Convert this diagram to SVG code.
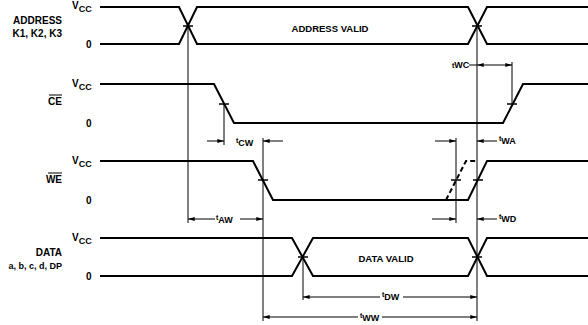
<svg xmlns="http://www.w3.org/2000/svg" width="588" height="325" viewBox="0 0 588 325">
<defs>
<marker id="ah" viewBox="0 0 10 6" refX="10" refY="3" markerWidth="8" markerHeight="4" markerUnits="userSpaceOnUse" orient="auto-start-reverse">
<path d="M0,0 L10,3 L0,6 Z" fill="#000"/>
</marker>
<style>
.sig{fill:none;stroke:#000;stroke-width:2;stroke-linejoin:miter}
.dash{fill:none;stroke:#000;stroke-width:2;stroke-dasharray:5,3}
.thin{fill:none;stroke:#000;stroke-width:1}
.arr{fill:none;stroke:#000;stroke-width:1;marker-end:url(#ah)}
.arr2{fill:none;stroke:#000;stroke-width:1;marker-start:url(#ah);marker-end:url(#ah)}
text{font-family:"Liberation Sans",Arial,sans-serif;font-weight:bold;font-size:10px;fill:#000}
.r{text-anchor:end}
.m{text-anchor:middle}
.t{font-size:7px}
.s{font-size:9px}
</style>
</defs>
<rect width="588" height="325" fill="#fff"/>

<g id="labels">
<text x="62" y="24" class="r">ADDRESS</text>
<text x="62" y="37" class="r">K1, K2, K3</text>
<text x="62" y="105" class="r">CE</text>
<line x1="49" y1="95" x2="62" y2="95" class="thin"/>
<text x="62" y="183" class="r">WE</text>
<line x1="48" y1="173" x2="62" y2="173" class="thin"/>
<text x="62" y="256" class="r">DATA</text>
<text x="62" y="269" class="r" style="font-size:9px">a, b, c, d, DP</text>
<text x="72" y="9">V<tspan class="s" dy="3">CC</tspan></text>
<text x="86" y="48">0</text>
<text x="72" y="87">V<tspan class="s" dy="3">CC</tspan></text>
<text x="86" y="127">0</text>
<text x="72" y="164">V<tspan class="s" dy="3">CC</tspan></text>
<text x="86" y="204">0</text>
<text x="72" y="241">V<tspan class="s" dy="3">CC</tspan></text>
<text x="86" y="280">0</text>
</g>

<g id="address">
<path class="sig" d="M100,7 H179 L197,44 H468 L487,7 H588"/>
<path class="sig" d="M100,44 H179 L197,7 H468 L487,44 H588"/>
<text x="330" y="32" class="m" style="font-size:9.5px">ADDRESS VALID</text>
</g>

<g id="ce">
<path class="sig" d="M100,84 H214 L234,123 H503 L523,84 H588"/>
</g>

<g id="we">
<path class="sig" d="M100,161 H253 L273,200 H468 L487,161 H588"/>
<path class="dash" d="M446,200 L466,161 H478"/>
</g>

<g id="data">
<path class="sig" d="M100,238 H292 L313,276 H468 L487,238 H588"/>
<path class="sig" d="M100,276 H292 L313,238 H468 L487,276 H588"/>
<text x="386" y="262" class="m" style="font-size:9.5px">DATA VALID</text>
</g>

<g id="connectors">
<!-- crossing ticks -->
<path class="thin" d="M183,26 h10 M472,26 h10 M219,104 h10 M507,104 h10 M258,180 h10 M451,180 h10 M473,180 h10 M298,257 h10 M472,257 h10" style="stroke-width:1.3"/>
<!-- reference verticals -->
<line class="thin" x1="188" y1="26" x2="188" y2="223"/>
<line class="thin" x1="477" y1="26" x2="477" y2="321"/>
<line class="thin" x1="224" y1="104" x2="224" y2="145"/>
<line class="thin" x1="263" y1="138" x2="263" y2="321"/>
<line class="thin" x1="512" y1="62" x2="512" y2="104"/>
<line class="thin" x1="456" y1="138" x2="456" y2="223"/>
<line class="thin" x1="303" y1="257" x2="303" y2="300"/>

<!-- tWC -->
<line class="thin" x1="469" y1="65" x2="477" y2="65"/>
<line class="arr2" x1="477" y1="65" x2="512" y2="65"/>
<text x="452" y="68"><tspan class="t">t</tspan><tspan class="s">WC</tspan></text>

<!-- tCW -->
<line class="arr" x1="207" y1="141" x2="224" y2="141"/>
<line class="arr" x1="283" y1="141" x2="263" y2="141"/>
<text x="236" y="143"><tspan class="t">t</tspan><tspan class="s" dy="3">CW</tspan></text>

<!-- tWA -->
<line class="arr" x1="435" y1="141" x2="456" y2="141"/>
<line class="arr" x1="497" y1="141" x2="477" y2="141"/>
<text x="499" y="141"><tspan class="t">t</tspan><tspan class="s" dy="3">WA</tspan></text>

<!-- tAW -->
<line class="arr" x1="215" y1="219" x2="188" y2="219"/>
<line class="arr" x1="240" y1="219" x2="263" y2="219"/>
<text x="216" y="220"><tspan class="t">t</tspan><tspan class="s" dy="3">AW</tspan></text>

<!-- tWD -->
<line class="arr" x1="432" y1="219" x2="456" y2="219"/>
<line class="arr" x1="497" y1="219" x2="477" y2="219"/>
<text x="499" y="219"><tspan class="t">t</tspan><tspan class="s" dy="3">WD</tspan></text>

<!-- tDW -->
<line class="arr" x1="380" y1="297" x2="303" y2="297"/>
<line class="arr" x1="403" y1="297" x2="477" y2="297"/>
<text x="382" y="297"><tspan class="t">t</tspan><tspan class="s" dy="3">DW</tspan></text>

<!-- tWW -->
<line class="arr" x1="358" y1="317" x2="263" y2="317"/>
<line class="arr" x1="382" y1="317" x2="477" y2="317"/>
<text x="360" y="318"><tspan class="t">t</tspan><tspan class="s" dy="3">WW</tspan></text>
</g>
</svg>
